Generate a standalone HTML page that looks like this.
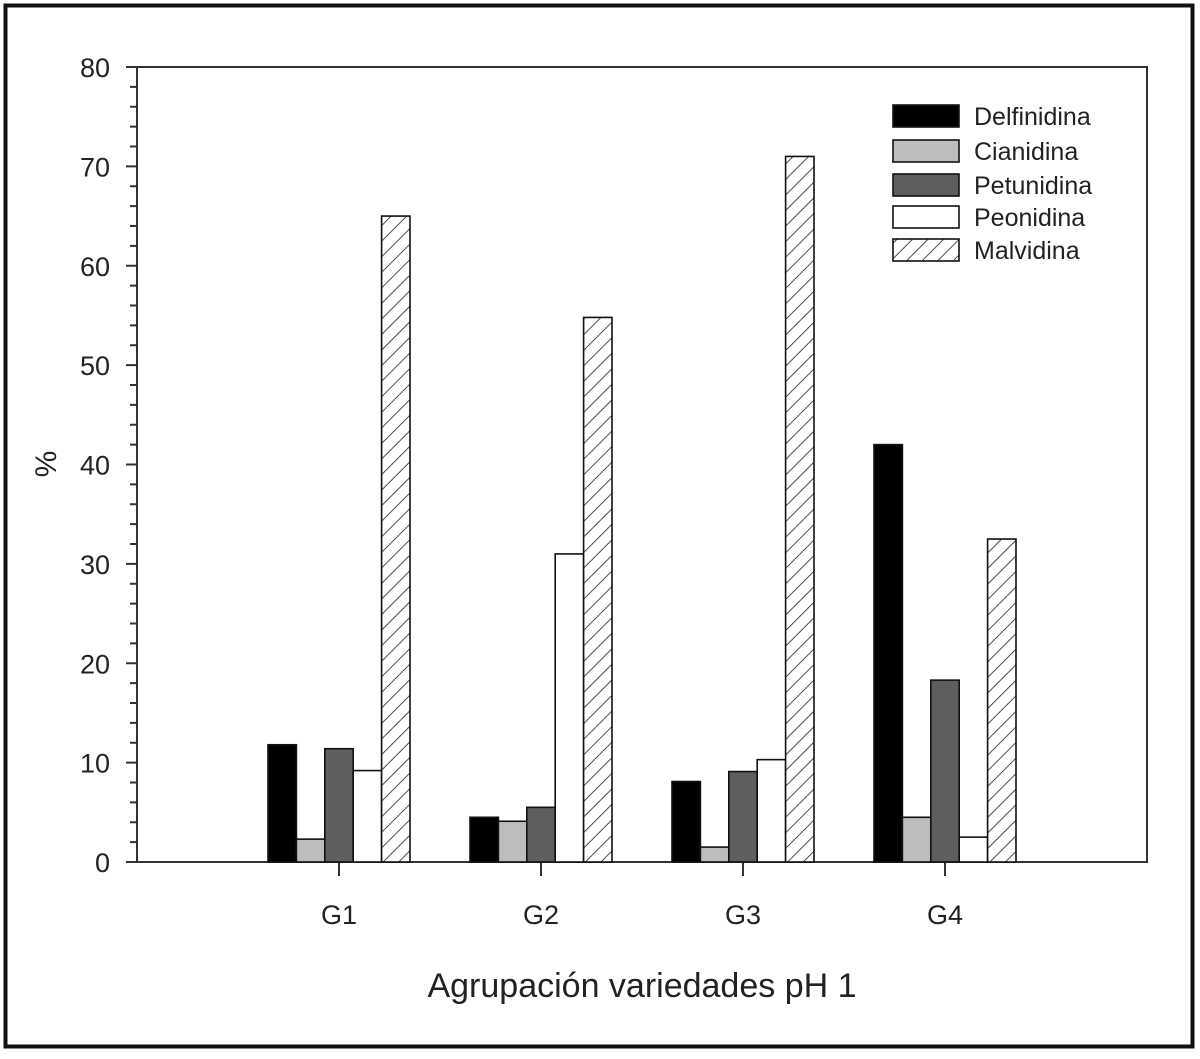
<!DOCTYPE html>
<html><head><meta charset="utf-8"><style>
body{margin:0;background:#fff;}
svg text{font-family:"Liberation Sans",Arial,sans-serif;fill:#222;}
</style></head><body>
<svg width="1200" height="1054" viewBox="0 0 1200 1054">
<defs>
<pattern id="hatch" patternUnits="userSpaceOnUse" width="11" height="11" patternTransform="rotate(45)">
<rect width="11" height="11" fill="#fff"/><line x1="0" y1="0" x2="0" y2="11" stroke="#222" stroke-width="1.6"/>
</pattern>
</defs>
<rect x="5.5" y="5.5" width="1187" height="1041" fill="#fff" stroke="#111" stroke-width="4"/>
<rect x="137" y="67" width="1010" height="795" fill="none" stroke="#333" stroke-width="2"/>
<g id="yaxis"></g>
<g id="xaxis"></g>
<g id="bars"></g>
<text x="56" y="464" font-size="30" text-anchor="middle" transform="rotate(-90 56 464)">%</text>
<text x="642" y="997" font-size="34" text-anchor="middle">Agrupación variedades pH 1</text>
<g id="legend"></g>
</svg>
<script>
const categories=["G1","G2","G3","G4"];
const seriesNames=["Delfinidina","Cianidina","Petunidina","Peonidina","Malvidina"];
const delfinidina=[11.8,4.5,8.1,42];
const cianidina=[2.3,4.1,1.5,4.5];
const petunidina=[11.4,5.5,9.1,18.3];
const peonidina=[9.2,31,10.3,2.5];
const malvidina=[65,54.8,71,32.5];
const yTicks=[0,10,20,30,40,50,60,70,80];

const NS="http://www.w3.org/2000/svg";
const X0=137,X1=1147,Y0=862,Y1=67,YMAX=80;
const y=v=>Y0-(v/YMAX)*(Y0-Y1);
const xc=i=>X0+(X1-X0)*(i+1)/5;
const BW=28.4;
const fills=["#000","#bdbdbd","#5e5e5e","#fff","url(#hatch)"];
const series=[delfinidina,cianidina,petunidina,peonidina,malvidina];
function mk(tag,attrs,parent){const e=document.createElementNS(NS,tag);for(const k in attrs)e.setAttribute(k,attrs[k]);parent.appendChild(e);return e;}

const ya=document.getElementById('yaxis');
for(let v=0;v<=YMAX;v+=2){
  const major=v%10===0;
  const t=mk('line',{x1:major?126:130,x2:X0,y1:y(v),y2:y(v),stroke:'#333','stroke-width':2},ya);
  
  
}
yTicks.forEach(v=>{
  const t=mk('text',{x:110,y:y(v)+10,'font-size':27,'text-anchor':'end'},ya);
  t.textContent=v;
  
  
});
const xa=document.getElementById('xaxis');
categories.forEach((c,i)=>{
  const l=mk('line',{x1:xc(i),x2:xc(i),y1:Y0,y2:Y0+14,stroke:'#333','stroke-width':2},xa);
  
  
  const t=mk('text',{x:xc(i),y:Y0+62,'font-size':27,'text-anchor':'middle'},xa);
  t.textContent=c;
  
  
});
const bg=document.getElementById('bars');
categories.forEach((c,i)=>{
  series.forEach((s,j)=>{
    const x=xc(i)+(j-2.5)*BW;
    const r=mk('rect',{x:x,y:y(s[i]),width:BW,height:Y0-y(s[i]),fill:fills[j],stroke:'#111','stroke-width':1.6},bg);
    
    
  });
});
const lg=document.getElementById('legend');
const ly=[116,151,185,217,250];
seriesNames.forEach((n,j)=>{
  const r=mk('rect',{x:893,y:ly[j]-11,width:66,height:22,fill:fills[j],stroke:'#111','stroke-width':1.6},lg);
  
  
  const t=mk('text',{x:974,y:ly[j]+9,'font-size':25},lg);
  t.textContent=n;
  
  
});
</script>
</body></html>
